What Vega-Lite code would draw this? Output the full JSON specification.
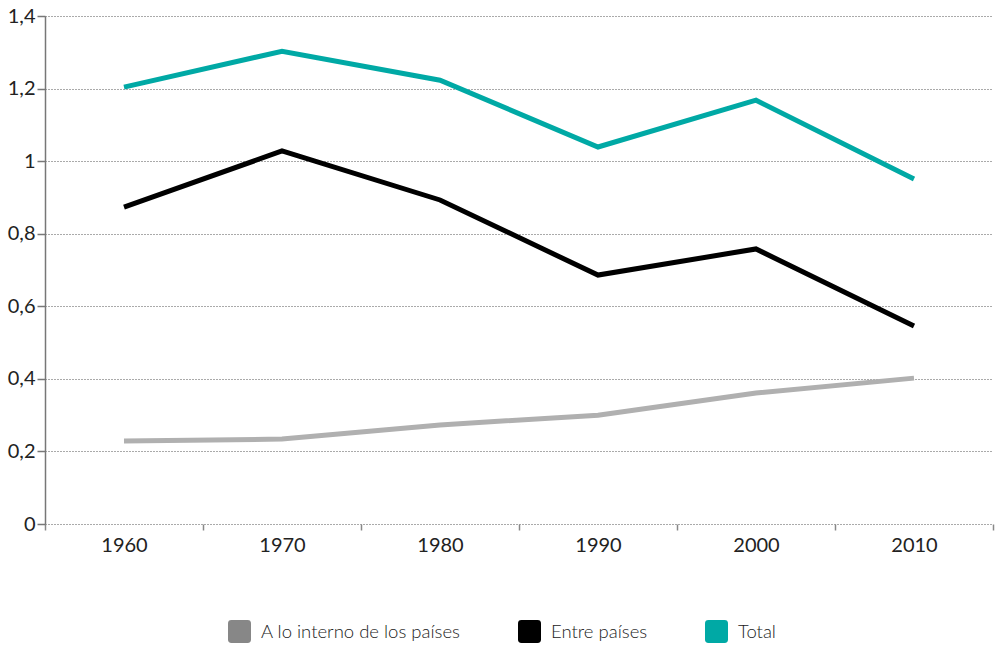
{
  "$schema": "https://vega.github.io/schema/vega-lite/v6.json",
  "width": 948,
  "height": 508,
  "autosize": {"type": "none"},
  "padding": {"left": 45, "top": 16, "right": 6, "bottom": 121},
  "background": "white",
  "config": {
    "font": "Lato",
    "view": {"stroke": null}
  },
  "data": {
    "values": [
      {"year": "1960", "serie": "A lo interno de los países", "valor": 0.229},
      {"year": "1970", "serie": "A lo interno de los países", "valor": 0.234},
      {"year": "1980", "serie": "A lo interno de los países", "valor": 0.273},
      {"year": "1990", "serie": "A lo interno de los países", "valor": 0.300},
      {"year": "2000", "serie": "A lo interno de los países", "valor": 0.361},
      {"year": "2010", "serie": "A lo interno de los países", "valor": 0.402},
      {"year": "1960", "serie": "Entre países", "valor": 0.873},
      {"year": "1970", "serie": "Entre países", "valor": 1.028},
      {"year": "1980", "serie": "Entre países", "valor": 0.893},
      {"year": "1990", "serie": "Entre países", "valor": 0.686},
      {"year": "2000", "serie": "Entre países", "valor": 0.758},
      {"year": "2010", "serie": "Entre países", "valor": 0.546},
      {"year": "1960", "serie": "Total", "valor": 1.204},
      {"year": "1970", "serie": "Total", "valor": 1.303},
      {"year": "1980", "serie": "Total", "valor": 1.223},
      {"year": "1990", "serie": "Total", "valor": 1.039},
      {"year": "2000", "serie": "Total", "valor": 1.168},
      {"year": "2010", "serie": "Total", "valor": 0.951}
    ]
  },
  "mark": {"type": "line", "strokeWidth": 5, "strokeCap": "butt", "strokeJoin": "miter"},
  "encoding": {
    "x": {
      "field": "year",
      "type": "ordinal",
      "scale": {"type": "band", "paddingInner": 0, "paddingOuter": 0},
      "axis": {
        "title": null,
        "labelAngle": 0,
        "labelFontSize": 20,
        "labelFontWeight": 400,
        "labelColor": "#222",
        "labelPadding": 5,
        "domain": false,
        "grid": false,
        "ticks": true,
        "tickBand": "extent",
        "tickColor": "#888",
        "tickSize": 6,
        "tickWidth": 1.5
      }
    },
    "y": {
      "field": "valor",
      "type": "quantitative",
      "scale": {"domain": [0, 1.4], "nice": false},
      "axis": {
        "title": null,
        "values": [0, 0.2, 0.4, 0.6, 0.8, 1, 1.2, 1.4],
        "labelExpr": "replace(format(datum.value, '~g'), '.', ',')",
        "labelFontSize": 20,
        "labelFontWeight": 400,
        "labelColor": "#222",
        "labelPadding": 2,
        "domain": true,
        "domainColor": "#777",
        "domainWidth": 1.5,
        "tickColor": "#777",
        "tickSize": 8,
        "tickWidth": 1.5,
        "grid": true,
        "gridColor": "#555",
        "gridDash": [1, 2],
        "gridWidth": 1
      }
    },
    "color": {
      "field": "serie",
      "type": "nominal",
      "scale": {
        "domain": ["A lo interno de los países", "Entre países", "Total"],
        "range": ["#b0b0b0", "#000000", "#00a9a5"]
      },
      "legend": {
        "title": null,
        "orient": "none",
        "legendX": 183,
        "legendY": 604,
        "direction": "horizontal",
        "columns": 3,
        "columnPadding": 57,
        "labelFontSize": 18.5,
        "labelFontWeight": 300,
        "labelLimit": 0,
        "labelColor": "#222",
        "labelOffset": 10,
        "symbolType": "M-0.7,-1 L0.7,-1 Q1,-1 1,-0.7 L1,0.7 Q1,1 0.7,1 L-0.7,1 Q-1,1 -1,0.7 L-1,-0.7 Q-1,-1 -0.7,-1 Z",
        "symbolSize": 529,
        "symbolStrokeWidth": 0,
        "symbolOpacity": 1,
        "encode": {
          "symbols": {
            "update": {
              "fill": {"signal": "datum.value === 'A lo interno de los países' ? '#878787' : scale('color', datum.value)"},
              "stroke": {"value": "transparent"}
            }
          }
        }
      }
    }
  }
}
